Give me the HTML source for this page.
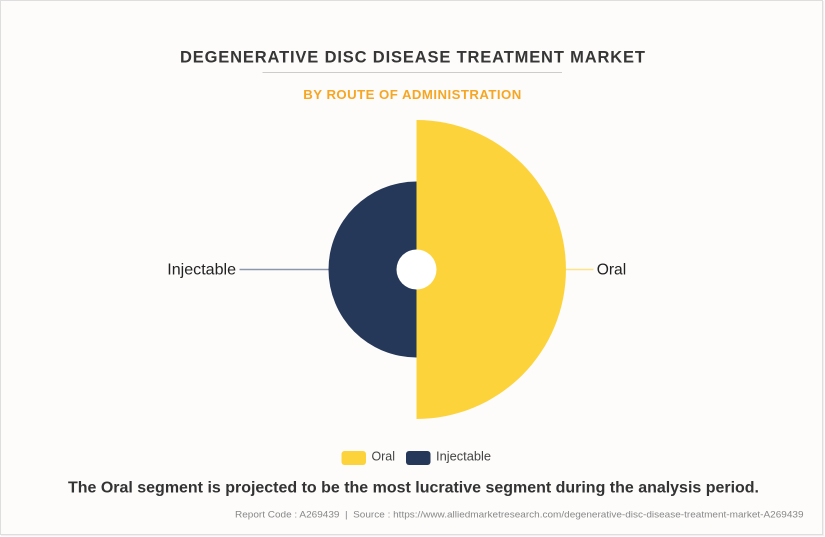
<!DOCTYPE html>
<html>
<head>
<meta charset="utf-8">
<style>
  html, body { margin: 0; padding: 0; background: #fdfcfb; }
  svg { display: block; }
  text { font-family: "Liberation Sans", Arial, sans-serif; }
</style>
</head>
<body>
<svg width="825" height="537" viewBox="0 0 825 537" xmlns="http://www.w3.org/2000/svg">
  <rect x="0" y="0" width="825" height="537" fill="#ffffff"/>
  <rect x="0.5" y="0.5" width="822" height="534" fill="#fdfcfb" stroke="#dedede" stroke-width="1"/>
  <line x1="823.5" y1="1" x2="823.5" y2="536" stroke="#f0f0f0" stroke-width="1"/>
  <line x1="1" y1="535.5" x2="824" y2="535.5" stroke="#f0f0f0" stroke-width="1"/>

  <!-- Title -->
  <text x="412.5" y="62.3" text-anchor="middle" font-size="16.5" font-weight="bold" fill="#363636" textLength="465" lengthAdjust="spacing">DEGENERATIVE DISC DISEASE TREATMENT MARKET</text>
  <line x1="262.5" y1="72.5" x2="562" y2="72.5" stroke="#cccccc" stroke-width="1"/>
  <text x="412.3" y="99" text-anchor="middle" font-size="13.2" font-weight="bold" fill="#f6a623" textLength="218" lengthAdjust="spacing">BY ROUTE OF ADMINISTRATION</text>

  <!-- Leader lines -->
  <line x1="239.5" y1="269.5" x2="330" y2="269.5" stroke="#8c97ab" stroke-width="1.5"/>
  <line x1="562" y1="269.5" x2="593.5" y2="269.5" stroke="#fde38a" stroke-width="1.5"/>

  <!-- Pie -->
  <path d="M416.5,120 A149.5,149.5 0 0 1 416.5,419 Z" fill="#fdd33b"/>
  <path d="M416.5,181.5 A88,88 0 0 0 416.5,357.5 Z" fill="#253859"/>
  <circle cx="416.5" cy="269.5" r="20" fill="#ffffff"/>

  <!-- Labels -->
  <text x="167.3" y="274.3" font-size="16" fill="#222222" textLength="68.7" lengthAdjust="spacingAndGlyphs">Injectable</text>
  <text x="596.7" y="274.3" font-size="16" fill="#222222" textLength="29.5" lengthAdjust="spacingAndGlyphs">Oral</text>

  <!-- Legend -->
  <rect x="341.5" y="451" width="24.5" height="14" rx="3" ry="3" fill="#fdd33b"/>
  <text x="371.5" y="460.7" font-size="12.5" fill="#444444" textLength="23.5" lengthAdjust="spacingAndGlyphs">Oral</text>
  <rect x="406" y="451" width="24.5" height="14" rx="3" ry="3" fill="#253859"/>
  <text x="436" y="460.7" font-size="12.5" fill="#444444" textLength="55" lengthAdjust="spacingAndGlyphs">Injectable</text>

  <!-- Footer -->
  <text x="68" y="492.7" font-size="16" font-weight="bold" fill="#333333" textLength="691" lengthAdjust="spacingAndGlyphs">The Oral segment is projected to be the most lucrative segment during the analysis period.</text>
  <text x="235" y="517.7" font-size="9.3" fill="#888888" textLength="568.5" lengthAdjust="spacingAndGlyphs">Report Code : A269439&#160;&#160;|&#160;&#160;Source : https://www.alliedmarketresearch.com/degenerative-disc-disease-treatment-market-A269439</text>
</svg>
</body>
</html>
